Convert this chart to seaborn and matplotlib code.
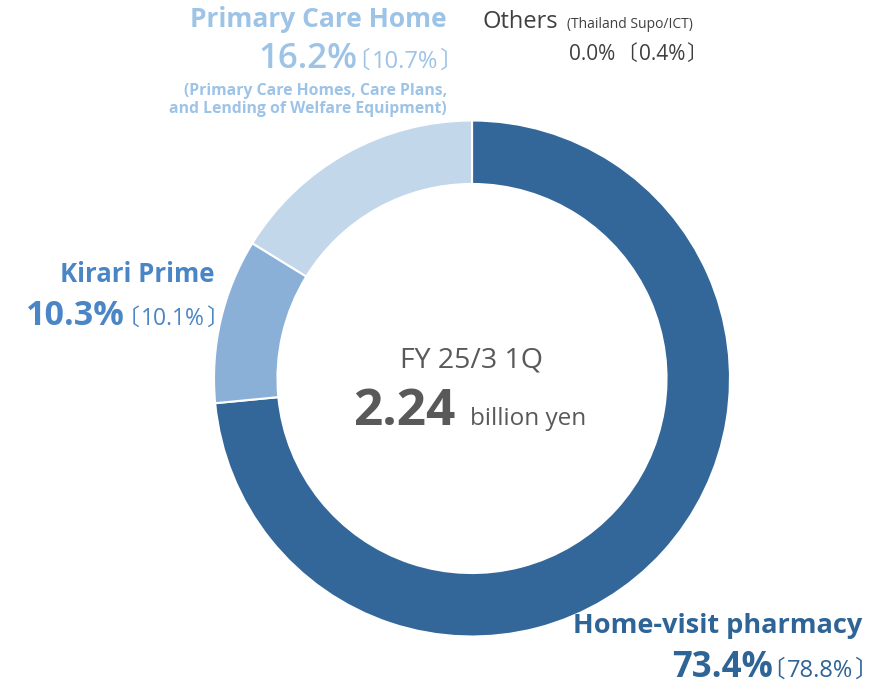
import matplotlib.pyplot as plt
import seaborn as sns
from matplotlib import font_manager
from matplotlib.ft2font import FT2Font

sns.set_theme(style="white")
plt.rcParams['font.family'] = ['Open Sans', 'Noto Sans CJK JP', 'DejaVu Sans']

# FY 25/3 1Q sales composition (previous year share in brackets)
segments = ["Home-visit pharmacy", "Kirari Prime", "Primary Care Home", "Others"]
shares = [73.4, 10.3, 16.2, 0.0]
prev_shares = [78.8, 10.1, 10.7, 0.4]
total_sales = 2.24
period = "FY 25/3 1Q"

ring_colors = ["#336699", "#8AB0D8", "#C3D7EB", "#A6A6A6"]
text_colors = ["#2F6496", "#4A86C6", "#9DC3E6", "#404040"]

fig = plt.figure(figsize=(8.94, 6.85), dpi=100)
ax = fig.add_axes([0, 0, 1, 1])
renderer = fig.canvas.get_renderer()

# pixel-like coordinates, y pointing down
R = 258
ax.pie(shares, colors=ring_colors, startangle=-90, counterclock=True,
       center=(472, 378.5), radius=R, frame=True,
       wedgeprops=dict(width=0.246 * R, edgecolor="white", linewidth=1.5))
ax.set_xlim(0, 894)
ax.set_ylim(685, 0)
ax.set_aspect("equal")
ax.axis("off")

cjk_path = font_manager.findfont(font_manager.FontProperties(family="Noto Sans CJK JP"))


def glyph_px(ch, size):
    f = FT2Font(cjk_path, hinting_factor=1)
    f.set_size(size, 100)
    g = f.load_char(ord(ch))
    return g.horiBearingX / 64, g.width / 64, g.horiAdvance / 64


def prev_group(x_ink_right, y, value, size, color, gaps=(2, 1)):
    """Draw 〔value%〕 with tight brackets, right edge of ink at x_ink_right."""
    bx, bw, adv = glyph_px("〕", size)
    ax.text(x_ink_right + (adv - bx - bw), y, "〕", ha="right", va="baseline",
            fontsize=size, color=color)
    num_right = x_ink_right - bw - gaps[1]
    t = ax.text(num_right, y, f"{value:.1f}%", ha="right", va="baseline",
                fontsize=size, color=color)
    num_left = num_right - t.get_window_extent(renderer).width
    ox, ow, oadv = glyph_px("〔", size)
    open_right = num_left - gaps[0]
    ax.text(open_right + (oadv - ox - ow), y, "〔", ha="right", va="baseline",
            fontsize=size, color=color)
    return open_right - ow


def share_row(x_right, y, value, prev, size_big, size_small, color, weight="bold", gap=6):
    left = prev_group(x_right, y, prev, size_small, color)
    ax.text(left - gap, y, f"{value:.1f}%", ha="right", va="baseline",
            fontsize=size_big, fontweight=weight, color=color)


# Home-visit pharmacy
c = text_colors[0]
ax.text(862, 633, segments[0], ha="right", va="baseline", fontsize=19.5, fontweight="bold", color=c)
share_row(861, 677, shares[0], prev_shares[0], 25, 17, c, gap=5)

# Kirari Prime
c = text_colors[1]
ax.text(214, 282, segments[1], ha="right", va="baseline", fontsize=18.5, fontweight="bold", color=c)
share_row(213, 325, shares[1], prev_shares[1], 24.5, 16.5, c, gap=7)

# Primary Care Home
c = text_colors[2]
ax.text(447, 27, segments[2], ha="right", va="baseline", fontsize=19, fontweight="bold", color=c)
share_row(446, 68, shares[2], prev_shares[2], 25, 17, c, weight="semibold", gap=5)
ax.text(447, 95, "(Primary Care Homes, Care Plans,", ha="right", va="baseline",
        fontsize=11.3, fontweight="bold", color=c)
ax.text(447, 113, "and Lending of Welfare Equipment)", ha="right", va="baseline",
        fontsize=11.3, fontweight="bold", color=c)

# Others
c = text_colors[3]
ax.text(483, 28, segments[3], ha="left", va="baseline", fontsize=17, color=c)
ax.text(567, 28, "(Thailand Supo/ICT)", ha="left", va="baseline", fontsize=10, color=c)
share_row(692, 60, shares[3], prev_shares[3], 15, 15, c, weight="normal", gap=14)

# center
ax.text(472, 367, period, ha="center", va="baseline", fontsize=20.5, color="#595959")
ax.text(455, 425, f"{total_sales:.2f}", ha="right", va="baseline", fontsize=37,
        fontweight="bold", color="#595959")
ax.text(470, 425, "billion yen", ha="left", va="baseline", fontsize=17.5, color="#595959")

fig.savefig("out.png", dpi=100, facecolor="white")
